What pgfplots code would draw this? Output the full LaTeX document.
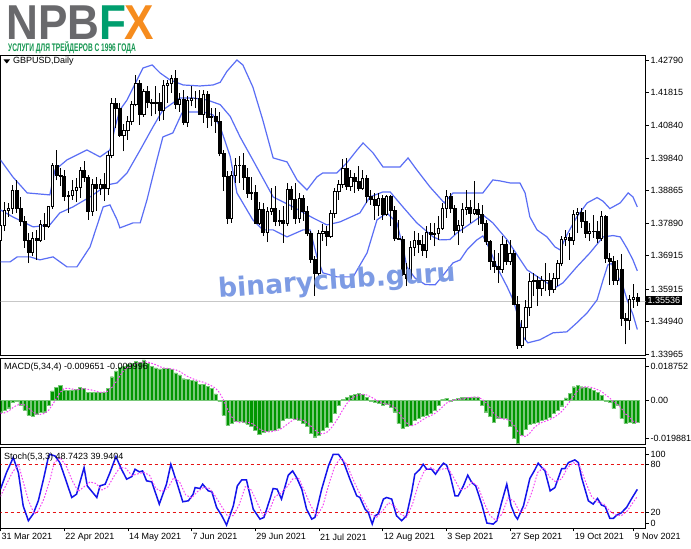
\documentclass[border=0pt]{standalone}
\usepackage{pgfplots}
\pgfplotsset{compat=1.18}
\usepackage{pgfplotstable}
\usepackage{fontspec}
\setmainfont{Liberation Sans}
\newfontfamily\wmfont{DejaVu Sans}

\definecolor{logogray}{RGB}{105,105,108}
\definecolor{logogreen}{RGB}{0,158,110}
\definecolor{logoorange}{RGB}{246,140,30}
\definecolor{subgreen}{RGB}{20,150,80}
\definecolor{band}{RGB}{90,110,245}
\definecolor{macdgreen}{RGB}{0,150,0}
\definecolor{macdedge}{RGB}{120,200,120}
\definecolor{sigmag}{RGB}{245,70,245}
\definecolor{stochblue}{RGB}{20,20,235}
\definecolor{levelred}{RGB}{230,20,20}
\definecolor{wm}{RGB}{125,155,228}

% daily GBPUSD, bar 0 = 31 Mar 2021
\pgfplotstableread{
i O H L C
0 1.3737 1.3810 1.3728 1.3783
1 1.3783 1.3852 1.3765 1.3828
2 1.3828 1.3850 1.3808 1.3835
3 1.3835 1.3903 1.3818 1.3888
4 1.3888 1.3918 1.3820 1.3835
5 1.3835 1.3867 1.3780 1.3795
6 1.3795 1.3812 1.3716 1.3738
7 1.3738 1.3760 1.3669 1.3703
8 1.3703 1.3763 1.3690 1.3745
9 1.3745 1.3770 1.3680 1.3738
10 1.3738 1.3800 1.3732 1.3787
11 1.3787 1.3820 1.3740 1.3780
12 1.3780 1.3842 1.3775 1.3839
13 1.3839 1.3970 1.3832 1.3962
14 1.3962 1.4009 1.3918 1.3934
15 1.3934 1.3956 1.3900 1.3930
16 1.3930 1.3950 1.3855 1.3869
17 1.3869 1.3887 1.3820 1.3873
18 1.3873 1.3918 1.3860 1.3887
19 1.3887 1.3925 1.3852 1.3897
20 1.3897 1.3957 1.3865 1.3947
21 1.3947 1.3976 1.3913 1.3928
22 1.3928 1.3934 1.3800 1.3826
23 1.3826 1.3923 1.3812 1.3906
24 1.3906 1.3928 1.3826 1.3894
25 1.3894 1.3922 1.3873 1.3905
26 1.3905 1.3940 1.3855 1.3894
27 1.3894 1.4005 1.3875 1.3994
28 1.3994 1.4166 1.3984 1.4149
29 1.4149 1.4166 1.4075 1.4133
30 1.4133 1.4150 1.4049 1.4054
31 1.4054 1.4087 1.4005 1.4067
32 1.4067 1.4110 1.4040 1.4095
33 1.4095 1.4155 1.4085 1.4146
34 1.4146 1.4234 1.4140 1.4210
35 1.4210 1.4220 1.4085 1.4115
36 1.4115 1.4192 1.4108 1.4185
37 1.4185 1.4200 1.4134 1.4151
38 1.4151 1.4163 1.4110 1.4149
39 1.4149 1.4200 1.4116 1.4153
40 1.4153 1.4180 1.4095 1.4128
41 1.4128 1.4220 1.4100 1.4202
42 1.4202 1.4220 1.4150 1.4210
43 1.4210 1.4235 1.4180 1.4225
44 1.4225 1.4250 1.4132 1.4147
45 1.4147 1.4180 1.4124 1.4160
46 1.4160 1.4190 1.4085 1.4091
47 1.4091 1.4170 1.4078 1.4158
48 1.4158 1.4200 1.4140 1.4165
49 1.4165 1.4186 1.4135 1.4165
50 1.4165 1.4188 1.4116 1.4116
51 1.4116 1.4190 1.4090 1.4176
52 1.4176 1.4185 1.4075 1.4108
53 1.4108 1.4135 1.4080 1.4109
54 1.4109 1.4135 1.4060 1.4096
55 1.4096 1.4123 1.3990 1.4000
56 1.4000 1.4010 1.3885 1.3929
57 1.3929 1.3945 1.3787 1.3805
58 1.3805 1.3945 1.3790 1.3934
59 1.3934 1.3985 1.3910 1.3962
60 1.3962 1.3990 1.3910 1.3964
61 1.3964 1.4000 1.3890 1.3926
62 1.3926 1.3955 1.3865 1.3878
63 1.3878 1.3928 1.3860 1.3882
64 1.3882 1.3905 1.3790 1.3790
65 1.3790 1.3852 1.3785 1.3831
66 1.3831 1.3850 1.3750 1.3763
67 1.3763 1.3838 1.3732 1.3826
68 1.3826 1.3895 1.3815 1.3835
69 1.3835 1.3900 1.3780 1.3795
70 1.3795 1.3830 1.3780 1.3797
71 1.3797 1.3840 1.3730 1.3790
72 1.3790 1.3910 1.3780 1.3892
73 1.3892 1.3900 1.3830 1.3862
74 1.3862 1.3910 1.3786 1.3804
75 1.3804 1.3880 1.3790 1.3863
76 1.3863 1.3875 1.3797 1.3826
77 1.3826 1.3840 1.3750 1.3760
78 1.3760 1.3765 1.3670 1.3680
79 1.3680 1.3690 1.3572 1.3640
80 1.3640 1.3770 1.3620 1.3760
81 1.3760 1.3788 1.3735 1.3764
82 1.3764 1.3780 1.3720 1.3750
83 1.3750 1.3830 1.3745 1.3820
84 1.3820 1.3895 1.3805 1.3884
85 1.3884 1.3920 1.3860 1.3907
86 1.3907 1.3983 1.3895 1.3955
87 1.3955 1.3985 1.3890 1.3901
88 1.3901 1.3950 1.3885 1.3926
89 1.3926 1.3940 1.3880 1.3914
90 1.3914 1.3960 1.3885 1.3893
91 1.3893 1.3950 1.3888 1.3923
92 1.3923 1.3935 1.3850 1.3870
93 1.3870 1.3888 1.3844 1.3862
94 1.3862 1.3880 1.3800 1.3843
95 1.3843 1.3880 1.3810 1.3863
96 1.3863 1.3875 1.3800 1.3817
97 1.3817 1.3875 1.3810 1.3869
98 1.3869 1.3875 1.3780 1.3829
99 1.3829 1.3840 1.3735 1.3743
100 1.3743 1.3800 1.3740 1.3741
101 1.3741 1.3750 1.3630 1.3636
102 1.3636 1.3670 1.3600 1.3623
103 1.3623 1.3735 1.3620 1.3718
104 1.3718 1.3765 1.3690 1.3738
105 1.3738 1.3760 1.3700 1.3725
106 1.3725 1.3755 1.3690 1.3707
107 1.3707 1.3780 1.3685 1.3761
108 1.3761 1.3790 1.3740 1.3755
109 1.3755 1.3790 1.3720 1.3760
110 1.3760 1.3810 1.3740 1.3775
111 1.3775 1.3850 1.3770 1.3834
112 1.3834 1.3890 1.3805 1.3869
113 1.3869 1.3880 1.3820 1.3835
114 1.3835 1.3845 1.3755 1.3767
115 1.3767 1.3800 1.3725 1.3782
116 1.3782 1.3850 1.3760 1.3830
117 1.3830 1.3890 1.3815 1.3836
118 1.3836 1.3860 1.3790 1.3820
119 1.3820 1.3915 1.3815 1.3830
120 1.3830 1.3850 1.3785 1.3816
121 1.3816 1.3845 1.3765 1.3789
122 1.3789 1.3800 1.3725 1.3736
123 1.3736 1.3740 1.3650 1.3676
124 1.3676 1.3710 1.3640 1.3660
125 1.3660 1.3700 1.3610 1.3650
126 1.3650 1.3750 1.3640 1.3725
127 1.3725 1.3740 1.3665 1.3674
128 1.3674 1.3740 1.3665 1.3700
129 1.3700 1.3710 1.3545 1.3547
130 1.3547 1.3570 1.3412 1.3422
131 1.3422 1.3500 1.3415 1.3475
132 1.3475 1.3560 1.3440 1.3536
133 1.3536 1.3640 1.3510 1.3614
134 1.3614 1.3640 1.3570 1.3617
135 1.3617 1.3630 1.3540 1.3593
136 1.3593 1.3630 1.3570 1.3618
137 1.3618 1.3670 1.3585 1.3617
138 1.3617 1.3640 1.3570 1.3592
139 1.3592 1.3640 1.3580 1.3624
140 1.3624 1.3680 1.3600 1.3670
141 1.3670 1.3750 1.3660 1.3742
142 1.3742 1.3770 1.3720 1.3748
143 1.3748 1.3760 1.3680 1.3738
144 1.3738 1.3830 1.3725 1.3815
145 1.3815 1.3835 1.3760 1.3821
146 1.3821 1.3835 1.3775 1.3795
147 1.3795 1.3830 1.3745 1.3760
148 1.3760 1.3790 1.3735 1.3766
149 1.3766 1.3815 1.3745 1.3765
150 1.3765 1.3795 1.3730 1.3744
151 1.3744 1.3825 1.3735 1.3809
152 1.3809 1.3815 1.3670 1.3684
153 1.3684 1.3700 1.3605 1.3674
154 1.3674 1.3690 1.3605 1.3617
155 1.3617 1.3680 1.3605 1.3651
156 1.3651 1.3697 1.3480 1.3503
157 1.3503 1.3520 1.3425 1.3497
158 1.3497 1.3575 1.3470 1.3560
159 1.3560 1.3608 1.3535 1.3566
160 1.3566 1.3580 1.3540 1.35536
}\ohlc

\pgfplotstableread{
i p
0 1.3979
3.1 1.3928
6.7 1.3880
12.4 1.3874
13.7 1.3949
16.7 1.3979
21.7 1.4009
25 1.3988
27.5 1.4009
28.8 1.4078
30 1.4129
31.8 1.4159
34.3 1.4219
35.8 1.4255
38.1 1.4264
40.1 1.4240
42.6 1.4219
45.9 1.4204
50.1 1.4201
53.4 1.4204
55.2 1.4212
56.9 1.4245
59.4 1.4279
60.9 1.4264
63.4 1.4198
65.9 1.4099
68.5 1.3985
72 1.3973
74.5 1.3919
77 1.3889
79.5 1.3928
81 1.3940
84.5 1.3940
87 1.3970
89.6 1.4009
91.1 1.4030
93.6 1.4000
96.1 1.3958
100.4 1.3958
102.4 1.3985
104.6 1.3949
107.9 1.3898
111.5 1.3850
113.7 1.3880
118 1.3880
121.2 1.3880
123.7 1.3919
125.5 1.3916
128 1.3910
130.5 1.3910
131.8 1.3880
133 1.3808
134.8 1.3769
137.3 1.3748
139.3 1.3718
140.6 1.3709
142.3 1.3754
144.8 1.3808
147.4 1.3850
149.9 1.3866
151.4 1.3855
153.1 1.3833
155.7 1.3850
157.7 1.3880
158.9 1.3868
160 1.3838
}\bbup

\pgfplotstableread{
i p
0 1.3829
3.1 1.3808
8.2 1.3778
12.4 1.3784
14.9 1.3820
18.2 1.3838
22.5 1.3868
26.8 1.3904
29.3 1.3910
31.8 1.3940
35.1 1.4009
38.3 1.4078
40.8 1.4129
42.6 1.4144
45.1 1.4165
48.4 1.4165
51.9 1.4159
55.2 1.4145
57.7 1.4110
60.2 1.4048
63.4 1.3979
68.5 1.3868
73.5 1.3838
78.5 1.3805
82 1.3784
85.3 1.3793
90.3 1.3820
92.8 1.3868
96.1 1.3883
97.9 1.3883
101.1 1.3838
104.6 1.3790
108.7 1.3748
110.4 1.3739
112.9 1.3740
114.7 1.3760
118.7 1.3793
121.2 1.3814
123.7 1.3790
127.3 1.3739
132.3 1.3649
137.3 1.3610
139.3 1.3595
141.3 1.3610
144.8 1.3658
148.1 1.3700
151.4 1.3748
153.9 1.3752
155.7 1.3748
157.4 1.3714
158.9 1.3679
160 1.3646
}\bbmid

\pgfplotstableread{
i p
0 1.3673
2.4 1.3673
4.2 1.3688
7.4 1.3688
9.9 1.3679
13.2 1.3688
16.7 1.3658
19.2 1.3658
22.5 1.3718
25.8 1.3838
27.5 1.3844
29.3 1.3799
30 1.3775
33.3 1.3790
35.1 1.3790
36.8 1.3859
39.3 1.3979
40.8 1.4048
43.3 1.4060
45.6 1.4120
47.6 1.4123
50.9 1.4123
53.4 1.4114
55.2 1.4078
57.7 1.3990
59.4 1.3880
63.4 1.3799
65.9 1.3769
68.5 1.3769
72 1.3748
76 1.3769
77.8 1.3769
79.5 1.3688
81 1.3640
84.5 1.3628
88.6 1.3628
92.1 1.3700
94.6 1.3799
97.1 1.3820
99.6 1.3790
101.1 1.3718
102.1 1.3658
104.1 1.3625
106.7 1.3605
109.2 1.3604
111.7 1.3640
113.7 1.3670
115.5 1.3679
117.2 1.3709
119.7 1.3739
121.2 1.3751
123 1.3709
124.7 1.3658
127.3 1.3598
128.8 1.3559
130.5 1.3490
131.3 1.3448
132.5 1.3430
135.5 1.3439
138.8 1.3460
142.3 1.3463
144.8 1.3490
147.4 1.3520
149.9 1.3559
151.4 1.3619
152.6 1.3664
153.5 1.3668
155.2 1.3628
156.4 1.3600
157.4 1.3560
158.9 1.3515
160 1.3470
}\bblow

% MACD(5,34,4): m = main (histogram), s = signal
\pgfplotstableread{
i m s
0 -0.0052 -0.0060
1 -0.0045 -0.0057
2 -0.0034 -0.0050
3 -0.0010 -0.0035
4 -0.0007 -0.0024
5 -0.0022 -0.0018
6 -0.0045 -0.0021
7 -0.0067 -0.0035
8 -0.0070 -0.0051
9 -0.0064 -0.0062
10 -0.0055 -0.0064
11 -0.0052 -0.0060
12 -0.0022 -0.0048
13 0.0041 -0.0022
14 0.0057 0.0006
15 0.0065 0.0035
16 0.0044 0.0052
17 0.0045 0.0053
18 0.0046 0.0050
19 0.0048 0.0046
20 0.0057 0.0049
21 0.0053 0.0051
22 0.0035 0.0048
23 0.0036 0.0045
24 0.0035 0.0040
25 0.0035 0.0035
26 0.0036 0.0036
27 0.0053 0.0040
28 0.0105 0.0057
29 0.0131 0.0081
30 0.0146 0.0109
31 0.0150 0.0133
32 0.0161 0.0147
33 0.0165 0.0156
34 0.0175 0.0163
35 0.0168 0.0167
36 0.0180 0.0171
37 0.0165 0.0171
38 0.0150 0.0165
39 0.0145 0.0159
40 0.0140 0.0150
41 0.0142 0.0144
42 0.0142 0.0142
43 0.0137 0.0140
44 0.0122 0.0136
45 0.0113 0.0129
46 0.0096 0.0117
47 0.0092 0.0106
48 0.0090 0.0098
49 0.0086 0.0091
50 0.0070 0.0085
51 0.0072 0.0080
52 0.0062 0.0073
53 0.0053 0.0064
54 0.0028 0.0054
55 -0.0007 0.0034
56 -0.0067 0.0002
57 -0.0112 -0.0040
58 -0.0104 -0.0073
59 -0.0094 -0.0094
60 -0.0094 -0.0101
61 -0.0097 -0.0097
62 -0.0107 -0.0098
63 -0.0119 -0.0104
64 -0.0134 -0.0114
65 -0.0154 -0.0129
66 -0.0142 -0.0137
67 -0.0139 -0.0142
68 -0.0134 -0.0142
69 -0.0134 -0.0137
70 -0.0127 -0.0134
71 -0.0091 -0.0122
72 -0.0082 -0.0109
73 -0.0080 -0.0095
74 -0.0085 -0.0085
75 -0.0090 -0.0084
76 -0.0104 -0.0090
77 -0.0119 -0.0100
78 -0.0150 -0.0116
79 -0.0164 -0.0134
80 -0.0157 -0.0148
81 -0.0134 -0.0151
82 -0.0120 -0.0144
83 -0.0097 -0.0127
84 -0.0059 -0.0103
85 -0.0022 -0.0075
86 0.0005 -0.0043
87 0.0012 -0.0016
88 0.0023 0.0005
89 0.0025 0.0016
90 0.0031 0.0023
91 0.0025 0.0026
92 0.0012 0.0023
93 -0.0007 0.0015
94 -0.0010 0.0005
95 -0.0015 -0.0005
96 -0.0022 -0.0014
97 -0.0020 -0.0017
98 -0.0030 -0.0022
99 -0.0052 -0.0031
100 -0.0104 -0.0052
101 -0.0127 -0.0078
102 -0.0119 -0.0101
103 -0.0112 -0.0116
104 -0.0089 -0.0112
105 -0.0082 -0.0101
106 -0.0074 -0.0089
107 -0.0067 -0.0078
108 -0.0059 -0.0071
109 -0.0045 -0.0061
110 -0.0022 -0.0048
111 0.0003 -0.0031
112 0.0008 -0.0014
113 -0.0007 -0.0005
114 0.0003 0.0002
115 0.0008 0.0003
116 0.0014 0.0005
117 0.0014 0.0010
118 0.0011 0.0012
119 0.0015 0.0014
120 0.0011 0.0013
121 -0.0022 0.0004
122 -0.0052 -0.0012
123 -0.0074 -0.0034
124 -0.0097 -0.0061
125 -0.0082 -0.0076
126 -0.0082 -0.0084
127 -0.0082 -0.0086
128 -0.0119 -0.0091
129 -0.0169 -0.0113
130 -0.0195 -0.0141
131 -0.0157 -0.0160
132 -0.0130 -0.0163
133 -0.0110 -0.0148
134 -0.0102 -0.0125
135 -0.0097 -0.0110
136 -0.0092 -0.0100
137 -0.0085 -0.0094
138 -0.0075 -0.0087
139 -0.0060 -0.0078
140 -0.0045 -0.0066
141 -0.0025 -0.0051
142 0.0010 -0.0030
143 0.0031 -0.0007
144 0.0060 0.0019
145 0.0065 0.0042
146 0.0060 0.0054
147 0.0056 0.0060
148 0.0053 0.0059
149 0.0045 0.0054
150 0.0035 0.0047
151 0.0022 0.0039
152 -0.0005 0.0024
153 -0.0008 0.0011
154 -0.0037 -0.0007
155 -0.0022 -0.0018
156 -0.0082 -0.0037
157 -0.0104 -0.0061
158 -0.0097 -0.0076
159 -0.0102 -0.0096
160 -0.0097 -0.0100
}\macd

% Stochastic (5,3,3) main line
\pgfplotstableread{
i v
0 49
1.5 69.6
3.2 88.3
4.5 69.6
5.7 28.2
7 9.7
8.2 18
9.5 34.5
10.8 61.4
12 88.3
12.4 92.4
13.7 90.3
14.9 82.1
16.2 63.5
17.9 38.6
19.1 42.7
21 75.8
21.8 53.1
24.2 38.6
25 53.1
26.3 55.2
27.5 69.6
29 89.5
30.4 73.8
31.7 61.4
33 64.7
33.8 73.8
34.9 70.5
35.7 71.7
36.7 59.4
38 58.1
39.9 30.4
41.7 55.2
42.8 80
44.3 57.3
45.8 33.3
47.2 34.5
48.4 42.7
48.9 51
50.1 49.8
50.8 55.2
52.2 46.9
53.1 45.7
54.3 26.2
55.6 15.9
56.8 4.3
58.5 28.2
59.5 53.1
60.6 60.5
61.8 60.5
63.5 24.1
65.2 11.7
66.2 13.8
67.7 36.6
68.5 49.8
69.5 49
70.6 36.6
72.3 66.4
73.4 71.7
74.4 63.5
75.7 49
76.9 24.1
78.2 11.7
79 13.8
80.7 49
82.4 78
83.6 92.4
84.9 92.4
86.1 84.1
87.8 61.4
89.5 40.7
90.3 38.6
91.6 24.1
92.4 20
93.4 5.5
94.1 15.9
94.9 18
96.2 36.6
97 38.6
98.3 36.6
99.5 15.9
100.8 9.7
102 15.9
103.3 44.9
104.1 67.6
105.4 73.8
106.2 80
107.1 73.8
108.3 73.8
109.3 67.6
110.4 75.9
111.3 81.3
112.1 78.8
112.9 67.6
114.2 40.7
115 40.7
116.3 53.1
117.4 66.4
118.4 57.3
119.4 53.1
120.9 30.4
122.2 6.8
123.8 5.5
124.7 9.7
125.9 32.4
127.2 55.2
128.3 28.2
129.3 15.9
129.9 11.7
131.4 28.2
133 62.3
134.1 71.7
135.1 81.3
136 75.9
136.8 71.7
138.1 46.9
139.3 51
141 74.6
141.8 74.6
142.7 82.1
144.3 85.4
145.2 82.1
146 63.5
147.7 34.5
148.9 30.4
150 37.4
151 29.2
151.9 27.5
153.1 12.6
154 12.6
154.8 16.7
155.9 19.2
157.3 26.2
158.6 37.4
160 48.74
}\stmain

% Stochastic signal line
\pgfplotstableread{
i v
0 40
1.5 55
3 70
4.5 80
5.5 62
7 35
8.5 18
9.5 22
11 38
12.5 62
13.5 82
15 88
16.5 78
18 60
19.5 46
21 52
22.5 58
24 56
25.5 48
27 52
28.5 65
30 76
31.5 75
33 66
34.5 68
36 70
37.5 66
39 50
40.5 46
42 50
43.5 63
45 58
46.5 42
48 38
49.5 46
51 51
52.5 50
54 40
55.5 28
57 16
58.5 16
60 30
61.5 52
63 48
64.5 32
66 16
67.5 22
69 40
70.5 44
72 52
73.5 62
75 62
76.5 45
78 28
79.5 16
81 28
82.5 55
84 78
85.5 88
87 80
88.5 62
90 46
91.5 32
93 18
94.5 14
96 22
97.5 32
99 28
100.5 18
102 14
103.5 30
105 55
106.5 72
108 76
109.5 72
111 74
112.5 75
114 62
115.5 48
117 50
118.5 58
120 52
121.5 32
123 16
124.5 10
126 18
127.5 38
129 34
130.5 20
132 26
133.5 45
135 70
136.5 76
138 64
139.5 58
141 62
142.5 76
144 82
145.5 78
147 58
148.5 40
150 33
151.5 31
153 22
154.5 17
156 16
157.5 22
159 33
160 39.94
}\stsig

\pgfplotsset{
  mt/.style={
    scale only axis, width=645bp,
    xmin=0, xmax=162.06, xtick=\empty,
    scaled x ticks=false, scaled y ticks=false,
    axis line style={line width=0.8bp},
    ytick pos=right, yticklabel pos=right,
    tick align=outside, major tick length=3bp,
    tick style={black, line width=0.6bp},
    yticklabel style={font=\fontsize{9bp}{10bp}\selectfont, anchor=west, inner sep=0pt, xshift=2bp},
  },
}

\begin{document}
\begin{tikzpicture}[x=1bp,y=1bp,font=\fontsize{9bp}{10.5bp}\selectfont]
\fill[white] (0,0) rectangle (691,549);

% logo
\node[anchor=base west, inner sep=0pt, font=\fontsize{49bp}{49bp}\selectfont\bfseries] at (6,509.5)
  {\raisebox{0pt}[\height][0pt]{\scalebox{0.9}[1]{\textcolor{logogray}{NPB}\textcolor{logogreen}{F}\kern-2bp\textcolor{logoorange}{X}}}};
\node[anchor=base west, inner sep=0pt, text=subgreen, font=\fontsize{11bp}{11bp}\selectfont\bfseries] at (8,497.5)
  {\raisebox{0pt}[7.5bp][\depth]{\scalebox{0.6}[1]{УСЛУГИ ДЛЯ ТРЕЙДЕРОВ С 1996 ГОДА}}};

% price panel
\begin{axis}[mt, at={(0.5bp,194bp)}, anchor=south west, height=300bp,
  ymin=1.33935, ymax=1.42940,
  ytick={1.42790,1.41815,1.40840,1.39840,1.38865,1.37890,1.36915,1.35915,1.34940,1.33965},
  yticklabels={1.42790,1.41815,1.40840,1.39840,1.38865,1.37890,1.36915,1.35915,1.34940,1.33965},
]
\addplot[color=black!22, line width=0.8bp] coordinates {(-2,1.35536) (170,1.35536)};
\addplot[only marks, mark=text, text mark={}, scatter,
  visualization depends on={\thisrow{O}\as\candO},
  visualization depends on={\thisrow{H}\as\candH},
  visualization depends on={\thisrow{L}\as\candL},
  visualization depends on={\thisrow{C}\as\candC},
  scatter/@pre marker code/.code={%
    \begingroup
    \pgfkeys{/pgf/fpu=true,/pgf/fpu/output format=fixed}%
    \pgfmathsetmacro\yh{(\candH-\candC)*3331.5}%
    \pgfmathsetmacro\yl{(\candL-\candC)*3331.5}%
    \pgfmathsetmacro\yo{(\candO-\candC)*3331.5}%
    \pgfkeys{/pgf/fpu=false}%
    \draw[black, line width=0.9bp] (0bp,\yl bp) -- (0bp,\yh bp);
    \ifdim\yo pt>0pt
      \fill[black] (-1.5bp,0bp) rectangle (1.5bp,\yo bp);
    \else
      \filldraw[fill=white, draw=black, line width=0.7bp] (-1.15bp,0bp) rectangle (1.15bp,\yo bp);
    \fi
    \endgroup
  },
  scatter/@post marker code/.code={},
] table[x=i, y=C] {\ohlc};
\addplot[band, line width=1.2bp] table[x=i, y=p] {\bbup};
\addplot[band, line width=1.2bp] table[x=i, y=p] {\bbmid};
\addplot[band, line width=1.2bp] table[x=i, y=p] {\bblow};
\end{axis}

% MACD panel
\begin{axis}[mt, at={(0.5bp,104.5bp)}, anchor=south west, height=86.2bp,
  ymin=-0.019881, ymax=0.018752,
  ytick={0.0150,0,-0.01715}, yticklabels={0.018752,0.00,-0.019881},
]
\addplot[ybar, bar width=3.1bp, bar shift=0pt, fill=macdgreen, draw=macdedge, line width=0.4bp] table[x=i, y=m] {\macd};
\addplot[sigmag, line width=1bp, dash pattern=on 1.6bp off 1.6bp] table[x=i, y=s] {\macd};
\end{axis}

% Stochastic panel
\begin{axis}[mt, at={(0.5bp,20.5bp)}, anchor=south west, height=81.5bp,
  ymin=0, ymax=101.5,
  ytick={92.4,80,20,6}, yticklabels={100,80,20,0},
  xtick={0,16,32,48,64,80,96,112,128,144,159},
  xticklabels={31 Mar 2021,22 Apr 2021,14 May 2021,7 Jun 2021,29 Jun 2021,21 Jul 2021,12 Aug 2021,3 Sep 2021,27 Sep 2021,19 Oct 2021,9 Nov 2021},
  xtick pos=bottom,
  xticklabel style={font=\fontsize{9bp}{10bp}\selectfont, anchor=north west, inner sep=0pt, xshift=1bp, yshift=-2bp},
]
\addplot[levelred, line width=0.9bp, dash pattern=on 3bp off 3bp] coordinates {(-2,80) (170,80)};
\addplot[levelred, line width=0.9bp, dash pattern=on 3bp off 3bp] coordinates {(-2,20) (170,20)};
\addplot[stochblue, line width=1.5bp] table[x=i, y=v] {\stmain};
\addplot[sigmag, line width=1bp, dash pattern=on 1.6bp off 1.6bp] table[x=i, y=v] {\stsig};
\end{axis}

% panel captions
\fill[black] (3.5,489.5) -- (10,489.5) -- (6.75,485.5) -- cycle;
\node[anchor=west, inner sep=0pt] at (13,487.5) {GBPUSD,Daily};
\node[anchor=west, inner sep=0pt] at (4,182) {MACD(5,34,4) -0.009651 -0.009996};
\node[anchor=west, inner sep=0pt] at (4,92) {Stoch(5,3,3) 48.7423 39.9404};

% current price tag
\node[anchor=west, fill=black, text=white, inner xsep=1.5bp, inner ysep=1.5bp, font=\fontsize{9bp}{10bp}\selectfont] at (646,248.3) {1.35536};

% watermark
\node[rotate=4, text=wm, font=\wmfont\fontsize{26.5bp}{26.5bp}\selectfont\bfseries] at (337,267) {binaryclub.guru};

\pgfresetboundingbox
\path[use as bounding box] (0,0) rectangle (691,549);
\end{tikzpicture}
\end{document}
